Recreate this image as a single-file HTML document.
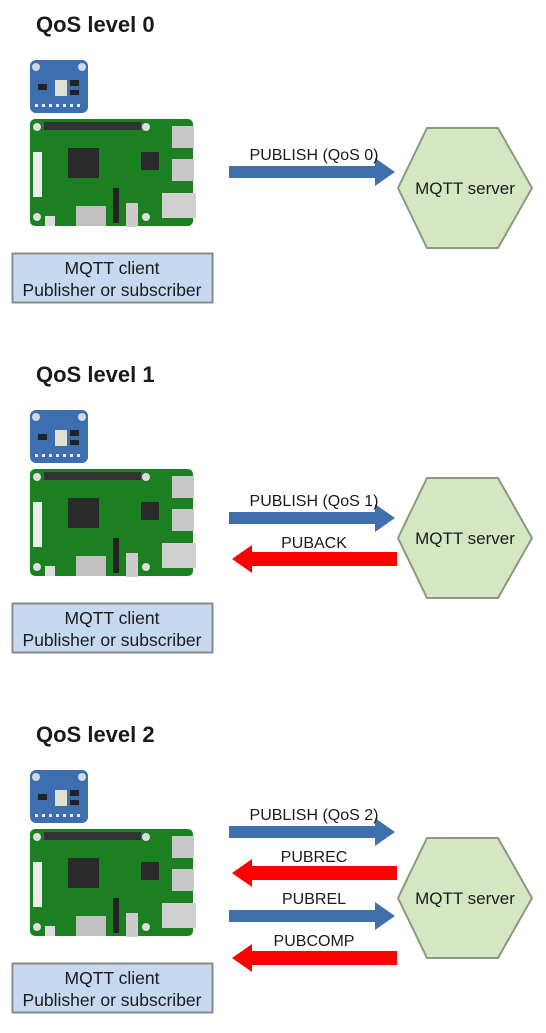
<!DOCTYPE html>
<html><head><meta charset="utf-8"><style>
html,body{margin:0;padding:0;background:#fff;}
svg{display:block;}
text{font-family:"Liberation Sans",sans-serif;fill:#1a1a1a;}
</style></head><body>
<svg width="546" height="1033" viewBox="0 0 546 1033" xmlns="http://www.w3.org/2000/svg">
<defs>
<g id="dev">
  <rect x="30" y="60" width="58" height="53" rx="6" fill="#3d6fb0"/>
  <circle cx="36" cy="67" r="4" fill="#cfd8e3"/><circle cx="82" cy="67" r="4" fill="#cfd8e3"/>
  <rect x="55" y="80" width="12" height="16" fill="#e0e0d0"/>
  <rect x="38" y="84" width="9" height="6" fill="#222"/><rect x="70" y="80" width="9" height="6" fill="#222"/><rect x="70" y="90" width="9" height="5" fill="#222"/>
  <g fill="#e8e8e8"><rect x="35" y="104" width="3" height="3"/><rect x="42" y="104" width="3" height="3"/><rect x="49" y="104" width="3" height="3"/><rect x="56" y="104" width="3" height="3"/><rect x="63" y="104" width="3" height="3"/><rect x="70" y="104" width="3" height="3"/><rect x="77" y="104" width="3" height="3"/></g>
  <rect x="30" y="119" width="163" height="107" rx="5" fill="#1c7f22"/>
  <rect x="44" y="122" width="97" height="8" fill="#333"/>
  <circle cx="37" cy="127" r="4" fill="#ddd"/><circle cx="146" cy="127" r="4" fill="#ddd"/>
  <circle cx="37" cy="217" r="4" fill="#ddd"/><circle cx="146" cy="217" r="4" fill="#ddd"/>
  <rect x="68" y="148" width="31" height="30" fill="#2a2a2a"/>
  <rect x="141" y="152" width="18" height="18" fill="#2a2a2a"/>
  <rect x="172" y="126" width="22" height="22" fill="#c8c8c8"/>
  <rect x="172" y="159" width="22" height="22" fill="#c8c8c8"/>
  <rect x="162" y="193" width="34" height="25" fill="#d0d0d0"/>
  <rect x="76" y="206" width="30" height="20" fill="#c0c0c0"/>
  <rect x="113" y="188" width="6" height="35" fill="#222"/>
  <rect x="126" y="203" width="12" height="24" fill="#ccc"/>
  <rect x="33" y="152" width="9" height="45" fill="#eee"/>
  <rect x="45" y="216" width="10" height="10" fill="#ddd"/>
  <rect x="12.5" y="253.5" width="200" height="49" fill="#c6d9f0" stroke="#8a8a8a" stroke-width="2"/>
  <text x="112" y="274" font-size="17.5" text-anchor="middle">MQTT client</text>
  <text x="112" y="296" font-size="17.5" text-anchor="middle">Publisher or subscriber</text>
  <polygon points="398,188 427,128 498,128 532,188 498,248 427,248" fill="#d4e6c2" stroke="#8a9a80" stroke-width="2"/>
  <text x="465" y="194" font-size="17" text-anchor="middle">MQTT server</text>
</g>
<g id="ar"><polygon points="229,-6 375,-6 375,-14 395,0 375,14 375,6 229,6" fill="#3f70ad"/></g>
<g id="al"><polygon points="397,-7 252,-7 252,-14 232,0 252,14 252,7 397,7" fill="#ff0000"/></g>
</defs>

<text x="36" y="32" font-size="22" font-weight="bold">QoS level 0</text>
<use href="#dev"/>
<use href="#ar" y="172"/>
<text x="314" y="160" font-size="16" text-anchor="middle">PUBLISH (QoS 0)</text>

<text x="36" y="382" font-size="22" font-weight="bold">QoS level 1</text>
<use href="#dev" y="350"/>
<use href="#ar" y="518"/>
<text x="314" y="506" font-size="16" text-anchor="middle">PUBLISH (QoS 1)</text>
<use href="#al" y="559"/>
<text x="314" y="548" font-size="16" text-anchor="middle">PUBACK</text>

<text x="36" y="742" font-size="22" font-weight="bold">QoS level 2</text>
<use href="#dev" y="710"/>
<use href="#ar" y="832"/>
<text x="314" y="820" font-size="16" text-anchor="middle">PUBLISH (QoS 2)</text>
<use href="#al" y="873"/>
<text x="314" y="862" font-size="16" text-anchor="middle">PUBREC</text>
<use href="#ar" y="916"/>
<text x="314" y="904" font-size="16" text-anchor="middle">PUBREL</text>
<use href="#al" y="958"/>
<text x="314" y="946" font-size="16" text-anchor="middle">PUBCOMP</text>
</svg>
</body></html>
